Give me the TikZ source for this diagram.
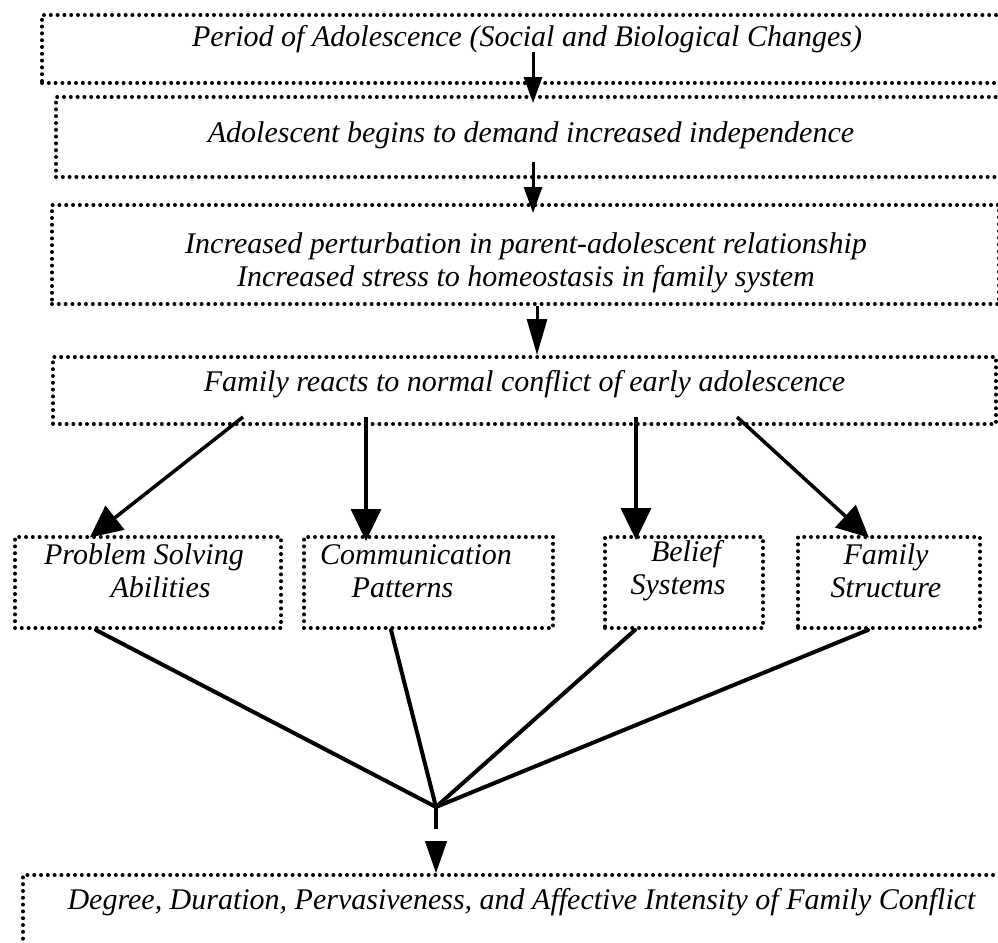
\documentclass[tikz,border=0pt]{standalone}
\usepackage{fontspec}
\setmainfont{Liberation Serif}
\usetikzlibrary{arrows.meta}
\tikzset{%
    >={Triangle[length=26pt,width=18pt]},
    stage/.style={draw, line width=4pt, dash pattern=on 0pt off 6.8pt, line cap=round,
        anchor=north west, inner xsep=0pt, inner ysep=4pt,
        font=\fontsize{30}{33}\selectfont\itshape},
    factor/.style={stage, minimum height=91pt},
    words/.style={align=center, inner sep=0pt, font=\fontsize{30}{33}\selectfont\itshape},
    flow/.style={->, line width=3pt},
    branch/.style={line width=3.5pt, -{Triangle[length=32pt,width=30pt]}},
    tie/.style={line width=4pt, line cap=round}
}

\begin{document}
\begin{tikzpicture}[x=1pt,y=-1pt]
        \useasboundingbox (0,0) rectangle (998,942);
        \clip (0,0) rectangle (998,942);

        % stages, top to bottom
        \node[stage, minimum width=970pt, text height=28pt, text depth=32pt]
            (period) at (40,13) {Period of Adolescence (Social and Biological Changes)};
        \node[stage, minimum width=950pt, text height=41pt, text depth=31pt]
            (demand) at (54,95) {Adolescent begins to demand increased independence};
        \node[stage, minimum width=947pt, minimum height=99pt] (stress) at (50,203) {};
        \node[words] (stress-t) at (526,263) {Increased perturbation in parent-adolescent relationship\\
            Increased stress to homeostasis in family system};
        \node[stage, minimum width=943pt, text height=30pt, text depth=29pt]
            (react) at (51,355) {Family reacts to normal conflict of early adolescence};

        % family factors
        \node[factor, minimum width=266pt] (solve) at (13,535) {};
        \node[factor, minimum width=249pt] (talk) at (302,535) {};
        \node[factor, minimum width=158pt] (belief) at (603,535) {};
        \node[factor, minimum width=182pt] (struct) at (796,535) {};
        \node[words] (solve-t) at (144,571) {Problem Solving\\\hspace*{33pt}Abilities};
        \node[words] (talk-t) at (416,571) {Communication\\Patterns\hspace*{27pt}};
        \node[words] (belief-t) at (678,571) {\hspace*{16pt}Belief\\Systems};
        \node[words] (struct-t) at (886,571) {Family\\Structure};

        \node[stage, minimum width=997pt, text height=30pt, text depth=60pt]
            (outcome) at (21,873) {Degree, Duration, Pervasiveness, and Affective Intensity of Family Conflict};

        % arrows between stages
        \coordinate (s1) at (533,52);
        \coordinate (s2) at (533,162);
        \draw[flow, shorten >=-8pt] (s1) -- (s1 |- demand.north);
        \draw[flow, shorten >=-10pt] (s2) -- (s2 |- stress.north);
        \draw[line width=3pt, -{Triangle[length=36pt,width=20pt]}]
            ([xshift=11.5pt]stress.south) -- ([xshift=12.5pt]react.north);

        % reaction to factors
        \draw[branch, shorten >=-4pt] ([xshift=-281.5pt,yshift=9pt]react.south) -- ([xshift=-55pt]solve.north);
        \draw[branch, shorten >=-6pt] ([xshift=-158.5pt,yshift=9pt]react.south) -- ([xshift=-62.5pt]talk.north);
        \draw[branch, shorten >=-5pt] ([xshift=111.5pt,yshift=9pt]react.south) -- ([xshift=-48pt]belief.north);
        \draw[branch, shorten >=-4pt] ([xshift=212.5pt,yshift=9pt]react.south) -- ([xshift=-23pt]struct.north);

        % factors meet
        \coordinate (cv) at (436,807);
        \coordinate (stem) at (436,829);
        \coordinate (tip) at (436,841);
        \draw[tie] ([xshift=-52pt]solve.south) -- (cv);
        \draw[tie] ([xshift=-37.5pt]talk.south) -- (cv);
        \draw[tie] ([xshift=-49pt]belief.south) -- (cv);
        \draw[tie] ([xshift=-21pt]struct.south) -- (cv);
        \draw[line width=4pt] (cv) -- (stem);
        \draw[line width=1pt, -{Triangle[length=32pt,width=22pt]}] (tip) -- (tip |- outcome.north);
    \end{tikzpicture}
\end{document}
